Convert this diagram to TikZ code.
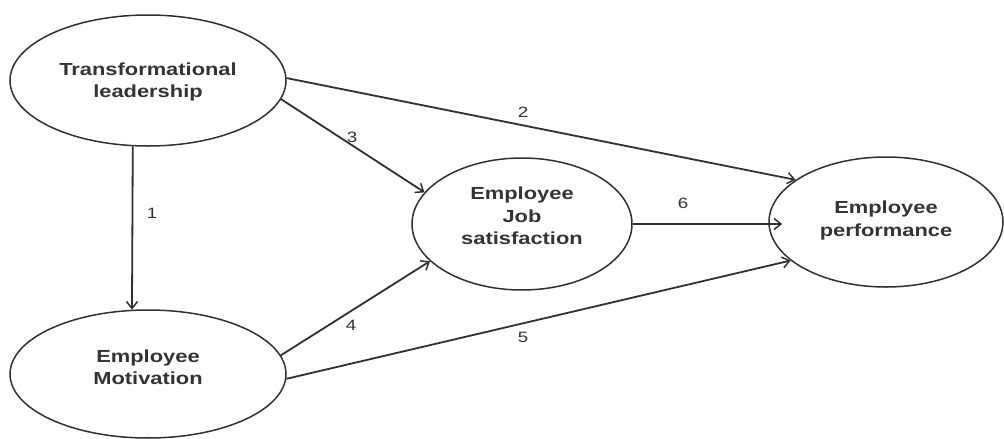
\documentclass[tikz,border=0pt]{standalone}
\usepackage{fontspec}
\usepackage{calc}
\setmainfont{Liberation Sans}[FakeStretch=1.25]
\usetikzlibrary{shapes.geometric,arrows.meta}
\definecolor{ink}{HTML}{303030}
\definecolor{txt}{HTML}{333333}
\newcommand{\lifttext}[2]{\raisebox{0pt}[\height][\depth+#1]{\begin{tabular}{@{}c@{}}#2\end{tabular}}}
\tikzset{
  ell/.style={ellipse, draw=ink, line width=1.5pt, inner sep=0pt, text=txt,
    font=\fontsize{17.5}{22.5}\selectfont\bfseries},
  arr/.style={draw=ink, line width=1.8pt, -{Straight Barb[length=7pt,width=11pt,line width=1.5pt]}},
  num/.style={text=txt, font=\fontsize{15}{16}\selectfont, inner sep=0pt}
}
\begin{document}
\begin{tikzpicture}[x=1pt,y=-1pt]
\useasboundingbox (0,0) rectangle (1004,439);
\node[ell, minimum width=276pt, minimum height=131pt] (tl) at (148,80.5) {\lifttext{-3pt}{Transformational\\leadership}};
\node[ell, minimum width=276pt, minimum height=128pt] (mot) at (148,374) {\lifttext{10pt}{Employee\\Motivation}};
\node[ell, minimum width=220pt, minimum height=132pt] (job) at (522,224) {\lifttext{13pt}{Employee\\Job\\satisfaction}};
\node[ell, minimum width=234pt, minimum height=130pt] (perf) at (886,222) {\lifttext{3pt}{Employee\\performance}};

\draw[arr] (tl.-103.8) -- (mot.104.1);
\draw[arr] (tl.1) -- (perf.155.6);
\draw[arr] (tl.-8.4) -- (job.162.6);
\draw[arr] (mot.8.3) -- (job.202.3);
\draw[arr] (mot.-2.5) -- (perf.202.2);
\draw[arr] (job.east) -- ([xshift=14pt]perf.west |- job.east);

\node[num] (l1) at (152,213) {1};
\node[num] (l2) at (523,112) {2};
\node[num] (l3) at (352,137) {3};
\node[num] (l4) at (351,325) {4};
\node[num] (l5) at (523,337) {5};
\node[num] (l6) at (683,203) {6};
\end{tikzpicture}
\end{document}
